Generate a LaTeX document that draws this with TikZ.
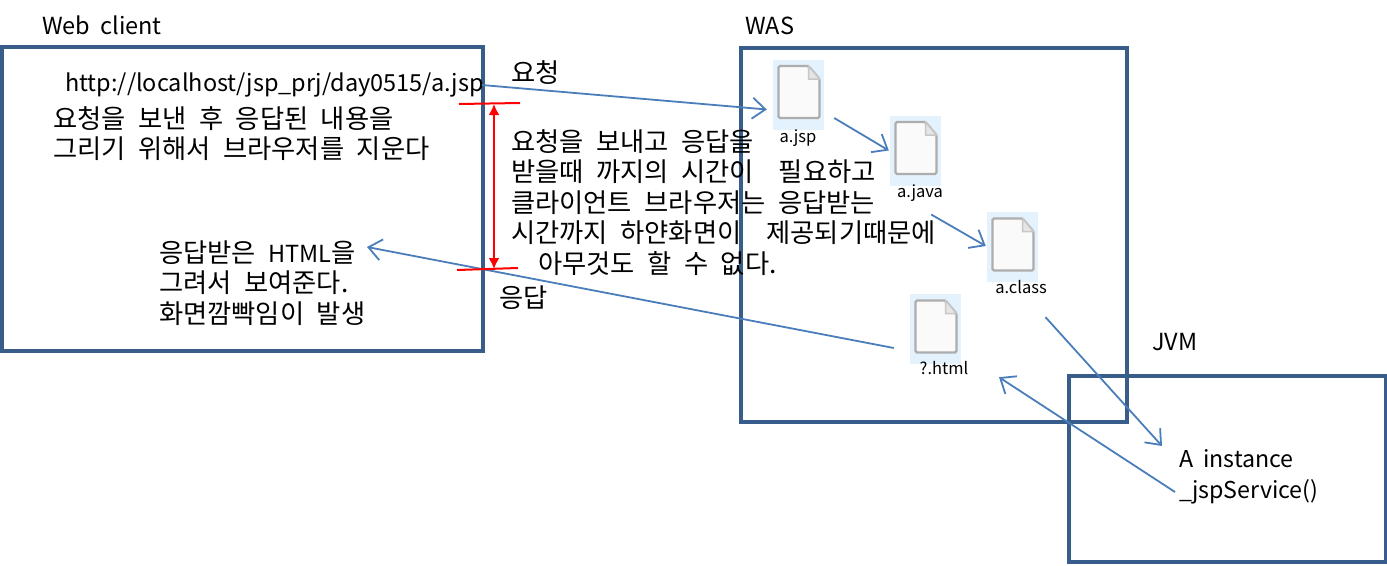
\documentclass[tikz,border=0pt]{standalone}
\usepackage{fontspec}
\setmainfont{Noto Sans CJK KR}
\usetikzlibrary{arrows.meta}
\definecolor{boxblue}{HTML}{385D8A}
\definecolor{flowblue}{HTML}{4A7EBB}
\definecolor{tileblue}{HTML}{E3F2FD}
\newcommand{\latin}[1]{{\fontsize{23.5}{30.5}\selectfont #1}}
\newcommand{\txtfont}{\fontsize{23.5}{31}\selectfont\spaceskip 10pt\relax}
\newcommand{\korfont}{\fontsize{26.3}{30.5}\selectfont\spaceskip 12.5pt\relax}
\tikzset{
  frame/.style={draw=boxblue,line width=3.5pt},
  txt/.style={anchor=west,inner sep=0pt,align=left,font=\txtfont},
  kor/.style={anchor=west,inner sep=0pt,align=left,font=\korfont},
  small/.style={inner sep=0pt,font=\fontsize{16.5}{18}\selectfont},
  tile/.style={fill=tileblue,minimum width=51pt,minimum height=70pt,inner sep=0pt},
  flow/.style={draw=flowblue,line width=1.8pt,-{Straight Barb[length=13pt,width=21pt,line width=1.8pt]}},
  redline/.style={draw=red,line width=2pt},
  fileicon/.pic={
    \draw[draw=black!32,fill=black!2,line width=2.2pt,rounded corners=1.5pt]
      (-20,-26) -- (10,-26) -- (21,-13) -- (21,26) -- (-20,26) -- cycle;
    \draw[draw=black!22,fill=black!10,line width=1.5pt] (10,-26) -- (10,-13) -- (21,-13) -- cycle;
  }
}
\begin{document}
\begin{tikzpicture}[x=1pt,y=-1pt]
  \useasboundingbox (0,0) rectangle (1387,565);
  % boxes
  \node[frame,minimum width=481pt,minimum height=304pt,inner sep=0pt] (client) at (242.5,199) {};
  \node[frame,minimum width=386pt,minimum height=374pt,inner sep=0pt] (was) at (934,235) {};
  \node[frame,minimum width=317pt,minimum height=186pt,inner sep=0pt] (jvm) at (1227.5,469) {};
  % titles
  \node[txt] (clienttitle) at (42,25) {Web client};
  \node[txt] (wastitle) at (745,26) {WAS};
  \node[txt] (jvmtitle) at (1152,342) {JVM};
  % files
  \node[tile] (jsp) at (798.5,94.5) {};
  \node[tile] (java) at (915.5,150.5) {};
  \node[tile] (class) at (1012.5,247) {};
  \node[tile] (html) at (935.5,329) {};
  \foreach \f in {jsp,java,class,html}
    \pic at ([yshift=2.5pt]\f.center) {fileicon};
  \node[small] (jsplabel) at (798,138) {a.jsp};
  \node[small] (javalabel) at (920,193) {a.java};
  \node[small] (classlabel) at (1021,287) {a.class};
  \node[small] (htmllabel) at (944,368) {?.html};
  % texts
  \node[txt] (url) at (65,85) {http://localhost/jsp\_prj/day0515/a.jsp};
  \node[kor] (clear) at (53,133.5) {요청을 보낸 후 응답된 내용을\\그리기 위해서 브라우저를 지운다};
  \node[kor] (paint) at (159,283) {응답받은 \latin{HTML}을\\그려서 보여준다.\\화면깜빡임이 발생};
  \node[kor] (req) at (511,73) {요청};
  \node[kor] (res) at (499,298) {응답};
  \node[kor] (wait) at (511,202.5) {요청을 보내고 응답을\\받을때 까지의 시간이\ \ 필요하고\\클라이언트 브라우저는 응답받는\\시간까지 하얀화면이\ \ 제공되기때문에\\\hspace{27pt}아무것도 할 수 없다.};
  \node[txt,font=\txtfont\fontsize{23.2}{31}\selectfont] (inst) at (1179,477) {A instance\\\_jspService()};
  % flows
  \draw[flow] ([xshift=-2pt]url.east) -- ([shift={(-6,15)}]jsp.west);
  \draw[flow] ([shift={(10,23.5)}]jsp.east) -- ([shift={(-1,0)}]java.west);
  \draw[flow] ([shift={(-10,64)}]java.east) -- ([shift={(-1,-1)}]class.west);
  \draw[flow] ([shift={(33,35)}]class.south) -- ([shift={(-17,-31)}]inst.west);
  \draw[flow] ([shift={(-4,15)}]inst.west) -- ([shift={(63.5,13)}]html.south);
  \draw[flow] ([shift={(-16,19)}]html.west) -- ([shift={(208,-36)}]paint.west);
  % time span
  \coordinate (topleft) at (459,104);
  \coordinate (topright) at (520,103);
  \coordinate (endleft) at (457,270);
  \coordinate (endright) at (518,268);
  \coordinate (spantop) at (494,104);
  \coordinate (spanend) at (494,269);
  \draw[redline] (topleft) -- (topright);
  \draw[redline] (endleft) -- (endright);
  \draw[redline,{Latex[length=11pt,width=11pt]}-{Latex[length=11pt,width=11pt]}] (spantop) -- (spanend);
\end{tikzpicture}
\end{document}
